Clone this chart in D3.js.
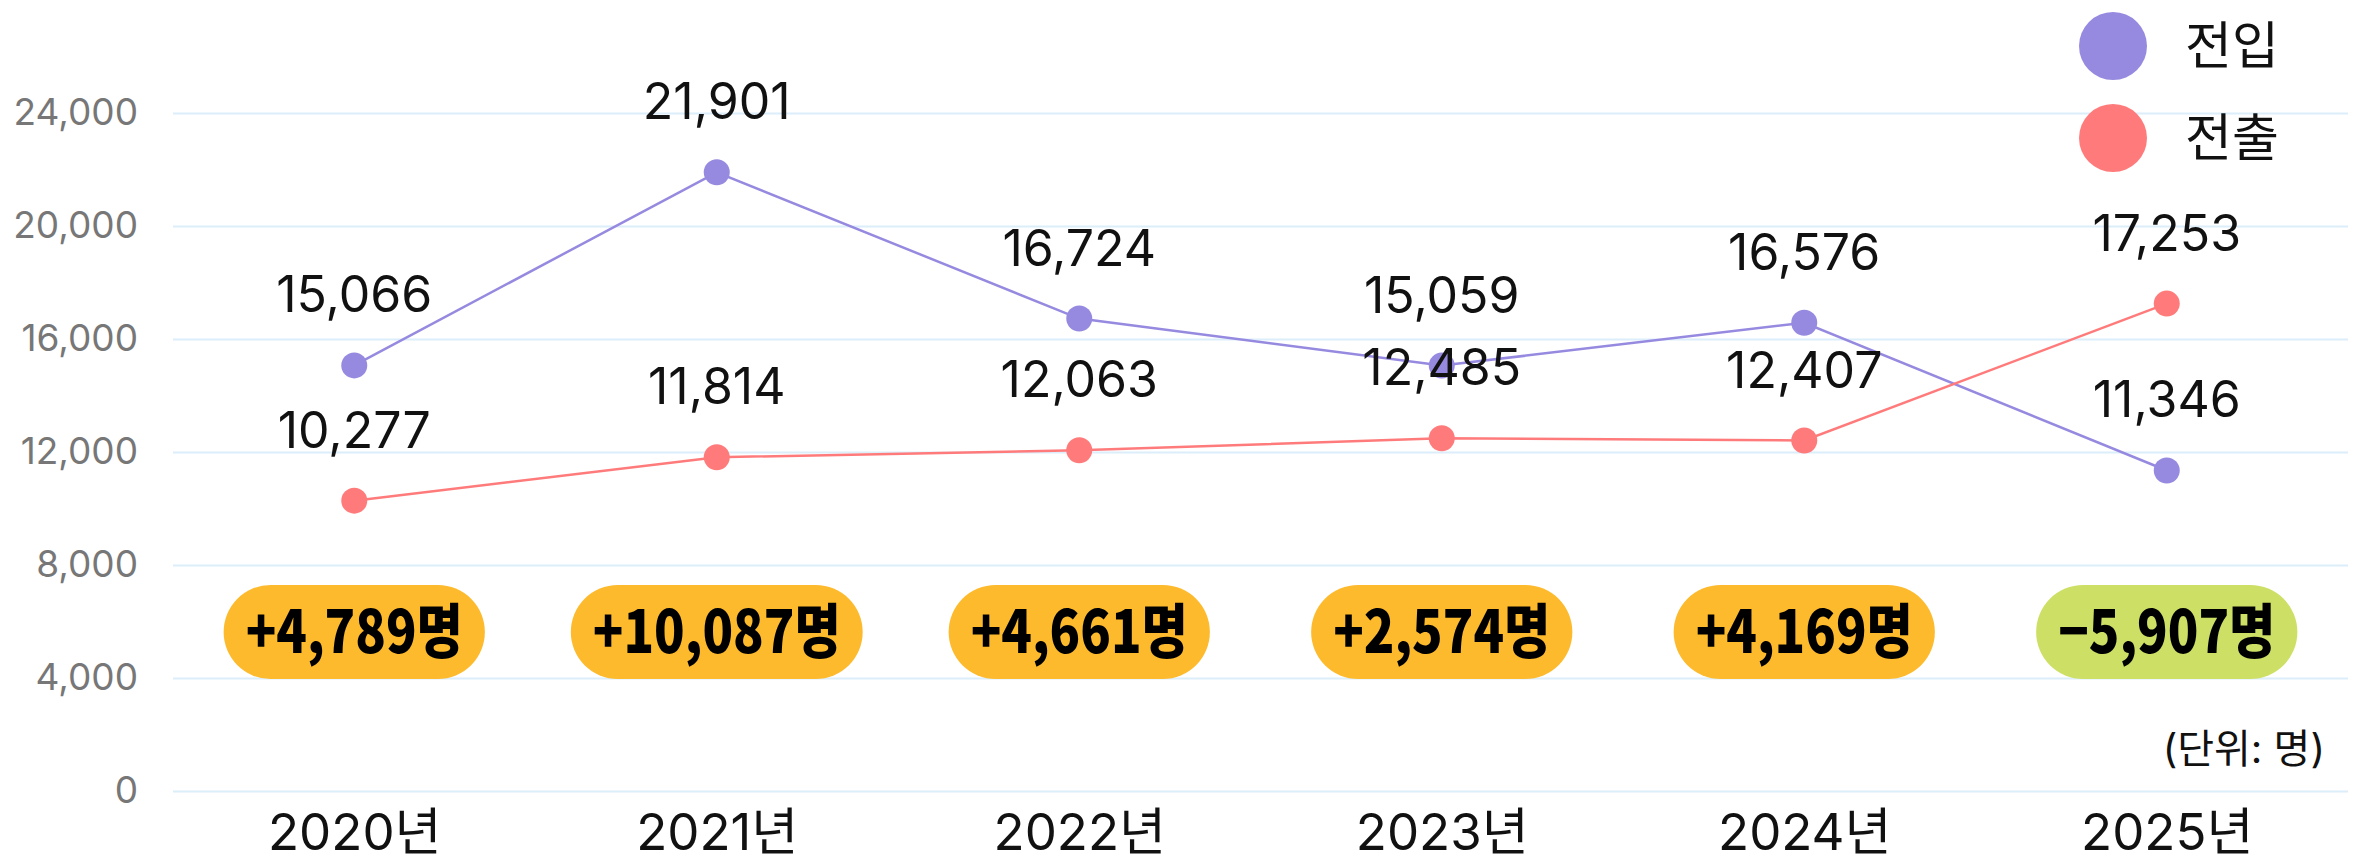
<!DOCTYPE html>
<html>
<head>
<meta charset="utf-8">
<script src="https://cdn.jsdelivr.net/npm/d3@7"></script>
<style>
    html, body { margin: 0; padding: 0; background: #fff; }
    svg text { font-family: Inter, "Noto Sans CJK KR", sans-serif; }
</style>
</head>
<body>
<div id="chart"></div>
<script>
    // dados do grafico
    var anos = ["2020년", "2021년", "2022년", "2023년", "2024년", "2025년"];
    var entrada = [15066, 21901, 16724, 15059, 16576, 11346];   // 전입
    var saida = [10277, 11814, 12063, 12485, 12407, 17253];      // 전출
    var yTicks = [0, 4000, 8000, 12000, 16000, 20000, 24000];
    var seriesNames = ["전입", "전출"];

    var width = 2355, height = 862;
    var cores = { entrada: "#968ae0", saida: "#ff7b7b" };
    var fmt = d3.format(",");

    var svg = d3.select("#chart").append("svg")
        .attr("width", width)
        .attr("height", height);

    var x = d3.scalePoint()
        .domain(anos)
        .range([173, 2348])
        .padding(0.5);

    var y = d3.scaleLinear()
        .domain([0, 24000])
        .range([791, 113]);

    // grade horizontal
    var yAxis = d3.axisLeft(y)
        .tickValues(yTicks)
        .tickFormat(fmt)
        .tickSize(-(2348 - 173))
        .tickPadding(35);

    var gy = svg.append("g")
        .attr("transform", "translate(173,0)")
        .call(yAxis);
    gy.select(".domain").remove();
    gy.selectAll(".tick line")
        .attr("stroke", "#ddeefb")
        .attr("stroke-width", 2);
    gy.selectAll(".tick text")
        .attr("fill", "#777")
        .style("font-size", "37px");

    // eixo x
    var xAxis = d3.axisBottom(x).tickSize(0).tickPadding(0);
    var gx = svg.append("g")
        .attr("transform", "translate(0,802)")
        .call(xAxis);
    gx.select(".domain").remove();
    gx.selectAll(".tick text")
        .attr("fill", "#111")
        .attr("dy", "0.95em")
        .style("font-size", "51px");

    // unidade
    svg.append("text")
        .attr("x", 2325)
        .attr("y", 763)
        .attr("text-anchor", "end")
        .attr("fill", "#111")
        .style("font-size", "40px")
        .text("(단위: 명)");

    // linhas e pontos
    var linha = d3.line()
        .x(function(d, i) { return x(anos[i]); })
        .y(function(d) { return y(d); });

    [["entrada", entrada], ["saida", saida]].forEach(function(s) {
        svg.append("path")
            .datum(s[1])
            .attr("fill", "none")
            .attr("stroke", cores[s[0]])
            .attr("stroke-width", 2.5)
            .attr("d", linha);

        svg.selectAll(".pt-" + s[0])
            .data(s[1])
            .enter().append("circle")
            .attr("class", "pt-" + s[0])
            .attr("cx", function(d, i) { return x(anos[i]); })
            .attr("cy", function(d) { return y(d); })
            .attr("r", 13)
            .attr("fill", cores[s[0]]);
    });

    // rotulos de valores
    [entrada, saida].forEach(function(serie) {
        svg.selectAll(null)
            .data(serie)
            .enter().append("text")
            .attr("x", function(d, i) { return x(anos[i]); })
            .attr("y", function(d) { return y(d) - 53; })
            .attr("text-anchor", "middle")
            .attr("fill", "#111")
            .style("font-size", "50px")
            .text(function(d) { return fmt(d); });
    });

    // saldo (전입 - 전출)
    var saldo = entrada.map(function(d, i) { return d - saida[i]; });
    var badges = svg.selectAll(".badge")
        .data(saldo)
        .enter().append("g")
        .attr("class", "badge")
        .attr("transform", function(d, i) { return "translate(" + x(anos[i]) + ",632)"; });

    badges.append("rect");
    badges.append("text")
        .attr("text-anchor", "middle")
        .attr("dy", "0.36em")
        .attr("fill", "#000")
        .attr("transform", "scale(0.95,1.12)")
        .style("font-family", "'Noto Sans CJK KR', sans-serif")
        .style("font-weight", 900)
        .style("font-size", "53px")
        .text(function(d) { return (d > 0 ? "+" : "−") + fmt(Math.abs(d)) + "명"; });

    badges.each(function(d) {
        var g = d3.select(this);
        var w = g.select("text").node().getComputedTextLength() * 0.95 + 44;
        g.select("rect")
            .attr("x", -w / 2)
            .attr("y", -47)
            .attr("width", w)
            .attr("height", 94)
            .attr("rx", 47)
            .attr("fill", d > 0 ? "#fdba2d" : "#cedf66");
    });

    // legenda
    var legenda = svg.append("g");
    seriesNames.forEach(function(nome, i) {
        var cor = i === 0 ? cores.entrada : cores.saida;
        legenda.append("circle")
            .attr("cx", 2113)
            .attr("cy", 46 + i * 92)
            .attr("r", 34)
            .attr("fill", cor);
        legenda.append("text")
            .attr("x", 2185)
            .attr("y", 46 + i * 92)
            .attr("dy", "0.36em")
            .attr("fill", "#111")
            .style("font-size", "51px")
            .text(nome);
    });
</script>
</body>
</html>
